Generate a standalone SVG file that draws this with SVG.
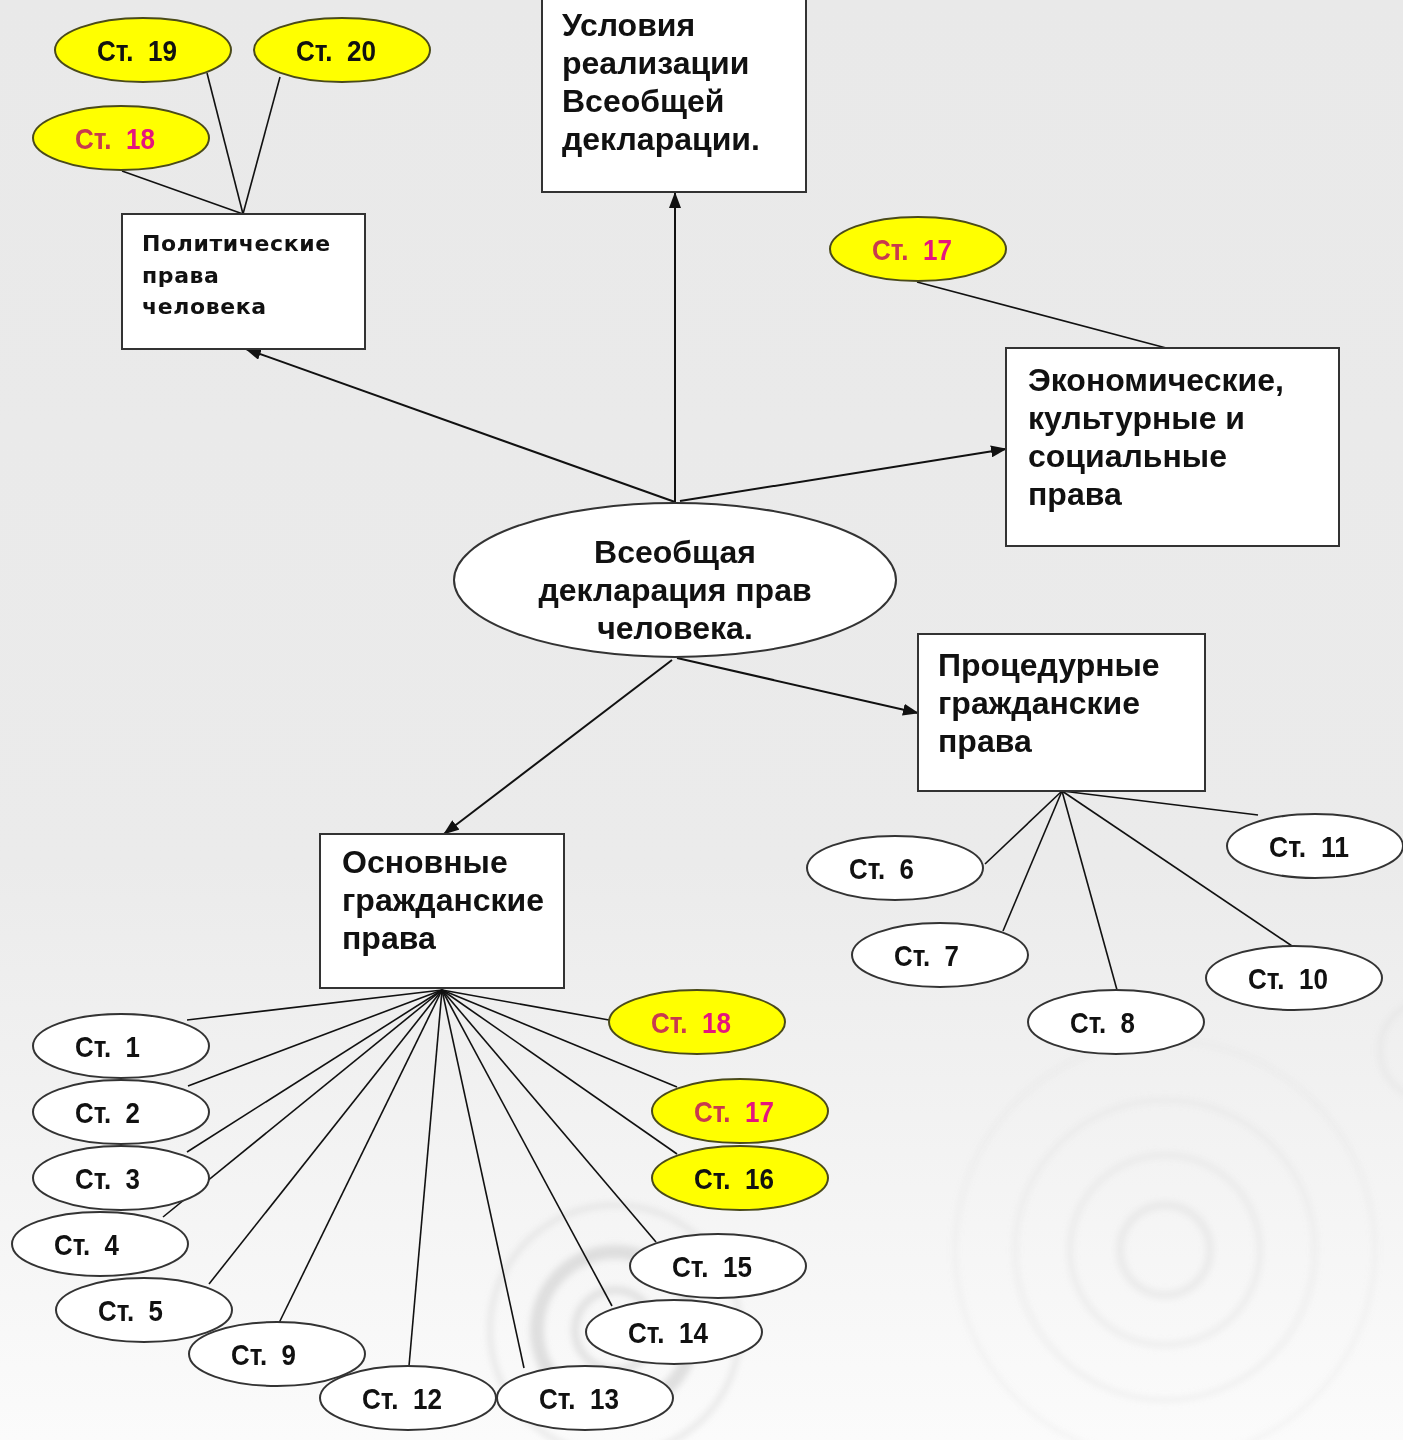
<svg xmlns="http://www.w3.org/2000/svg" width="1403" height="1440" viewBox="0 0 1403 1440">
<style>
.box{fill:#fff;stroke:#333;stroke-width:2}
.ew{fill:#fff;stroke:#333;stroke-width:2}
.ey{fill:#ffff00;stroke:#4a4a1a;stroke-width:2}
.t{font-family:"Liberation Sans",Arial,sans-serif;font-weight:bold;font-size:32px;fill:#111}
.ts{font-family:"DejaVu Sans",Verdana,sans-serif;font-weight:bold;font-size:22px;letter-spacing:0.6px;fill:#111}
.st{font-family:"Liberation Sans",Arial,sans-serif;font-weight:bold;font-size:30px;fill:#111}
.pk1{fill:#c83a4e}
.pk2{fill:#e5157e}
.ln{stroke:#111;stroke-width:1.6;fill:none}
.ar{stroke:#111;stroke-width:2;fill:none;marker-end:url(#ah)}
.rp{fill:none;stroke:#d4d4d4}
</style>
<defs>
<linearGradient id="bg" x1="0" y1="0" x2="0" y2="1">
<stop offset="0" stop-color="#e9e9e9"/>
<stop offset="0.6" stop-color="#ebebeb"/>
<stop offset="1" stop-color="#fbfbfb"/>
</linearGradient>
<filter id="soft" x="-20%" y="-20%" width="140%" height="140%"><feGaussianBlur stdDeviation="3"/></filter>
<marker id="ah" markerUnits="userSpaceOnUse" markerWidth="16" markerHeight="12" refX="15" refY="6" orient="auto">
<path d="M0,0 L16,6 L0,12 z" fill="#111"/>
</marker>
</defs>
<rect width="1403" height="1440" fill="url(#bg)"/>
<g id="ripples" filter="url(#soft)">
<circle class="rp" cx="615" cy="1330" r="40" stroke-width="8" opacity="0.6"/>
<circle class="rp" cx="615" cy="1330" r="78" stroke-width="14" opacity="0.7"/>
<circle class="rp" cx="615" cy="1330" r="125" stroke-width="5" opacity="0.5"/>
<circle class="rp" cx="1165" cy="1250" r="45" stroke-width="8" opacity="0.35"/>
<circle class="rp" cx="1165" cy="1250" r="95" stroke-width="6" opacity="0.3"/>
<circle class="rp" cx="1165" cy="1250" r="150" stroke-width="5" opacity="0.25"/>
<circle class="rp" cx="1165" cy="1250" r="210" stroke-width="4" opacity="0.2"/>
<circle class="rp" cx="1430" cy="1050" r="50" stroke-width="5" opacity="0.3"/>
</g>
<g id="connectors">
<line class="ln" x1="243" y1="214" x2="207" y2="73"/>
<line class="ln" x1="243" y1="214" x2="280" y2="77"/>
<line class="ln" x1="243" y1="214" x2="122" y2="171"/>
<line class="ln" x1="1170" y1="349" x2="917" y2="282"/>
<line class="ar" x1="675" y1="502" x2="246" y2="349"/>
<line class="ar" x1="675" y1="502" x2="675" y2="193"/>
<line class="ar" x1="680" y1="501" x2="1006" y2="449"/>
<line class="ar" x1="677" y1="658" x2="918" y2="713"/>
<line class="ar" x1="672" y1="660" x2="444" y2="834"/>
<line class="ln" x1="1062" y1="791" x2="985" y2="864"/>
<line class="ln" x1="1062" y1="791" x2="1003" y2="931"/>
<line class="ln" x1="1062" y1="791" x2="1117" y2="990"/>
<line class="ln" x1="1062" y1="791" x2="1292" y2="946"/>
<line class="ln" x1="1062" y1="791" x2="1258" y2="815"/>
<line class="ln" x1="442" y1="990" x2="187" y2="1020"/>
<line class="ln" x1="442" y1="990" x2="188" y2="1086"/>
<line class="ln" x1="442" y1="990" x2="187" y2="1152"/>
<line class="ln" x1="442" y1="990" x2="163" y2="1217"/>
<line class="ln" x1="442" y1="990" x2="209" y2="1284"/>
<line class="ln" x1="442" y1="990" x2="279" y2="1323"/>
<line class="ln" x1="442" y1="990" x2="409" y2="1366"/>
<line class="ln" x1="442" y1="990" x2="524" y2="1368"/>
<line class="ln" x1="442" y1="990" x2="612" y2="1306"/>
<line class="ln" x1="442" y1="990" x2="656" y2="1242"/>
<line class="ln" x1="442" y1="990" x2="677" y2="1154"/>
<line class="ln" x1="442" y1="990" x2="677" y2="1087"/>
<line class="ln" x1="442" y1="990" x2="609" y2="1020"/>
</g>
<g id="n-st19"><ellipse class="ey" cx="143" cy="50" rx="88" ry="32"/><text class="st" x="97" y="61" textLength="80" lengthAdjust="spacingAndGlyphs">Ст.&#160; 19</text></g>
<g id="n-st20"><ellipse class="ey" cx="342" cy="50" rx="88" ry="32"/><text class="st" x="296" y="61" textLength="80" lengthAdjust="spacingAndGlyphs">Ст.&#160; 20</text></g>
<g id="n-st18a"><ellipse class="ey" cx="121" cy="138" rx="88" ry="32"/><text class="st" x="75" y="149" textLength="80" lengthAdjust="spacingAndGlyphs"><tspan class="pk1">Ст.</tspan>&#160; <tspan class="pk2">18</tspan></text></g>
<g id="n-polit"><rect class="box" x="122" y="214" width="243" height="135"/>
<text class="ts" x="142" y="251">Политические</text>
<text class="ts" x="142" y="283">права</text>
<text class="ts" x="142" y="314">человека</text></g>
<g id="n-usl"><rect class="box" x="542" y="-2" width="264" height="194"/>
<text class="t" x="562" y="36">Условия</text>
<text class="t" x="562" y="74">реализации</text>
<text class="t" x="562" y="112">Всеобщей</text>
<text class="t" x="562" y="150">декларации.</text></g>
<g id="n-st17a"><ellipse class="ey" cx="918" cy="249" rx="88" ry="32"/><text class="st" x="872" y="260" textLength="80" lengthAdjust="spacingAndGlyphs"><tspan class="pk1">Ст.</tspan>&#160; <tspan class="pk2">17</tspan></text></g>
<g id="n-econ"><rect class="box" x="1006" y="348" width="333" height="198"/>
<text class="t" x="1028" y="391">Экономические,</text>
<text class="t" x="1028" y="429">культурные и</text>
<text class="t" x="1028" y="467">социальные</text>
<text class="t" x="1028" y="505">права</text></g>
<g id="n-center"><ellipse class="ew" cx="675" cy="580" rx="221" ry="77"/>
<text class="t" x="675" y="563" text-anchor="middle">Всеобщая</text>
<text class="t" x="675" y="601" text-anchor="middle">декларация прав</text>
<text class="t" x="675" y="639" text-anchor="middle">человека.</text></g>
<g id="n-proc"><rect class="box" x="918" y="634" width="287" height="157"/>
<text class="t" x="938" y="676">Процедурные</text>
<text class="t" x="938" y="714">гражданские</text>
<text class="t" x="938" y="752">права</text></g>
<g id="n-osn"><rect class="box" x="320" y="834" width="244" height="154"/>
<text class="t" x="342" y="873">Основные</text>
<text class="t" x="342" y="911">гражданские</text>
<text class="t" x="342" y="949">права</text></g>
<g id="n-st6"><ellipse class="ew" cx="895" cy="868" rx="88" ry="32"/><text class="st" x="849" y="879" textLength="65" lengthAdjust="spacingAndGlyphs">Ст.&#160; 6</text></g>
<g id="n-st7"><ellipse class="ew" cx="940" cy="955" rx="88" ry="32"/><text class="st" x="894" y="966" textLength="65" lengthAdjust="spacingAndGlyphs">Ст.&#160; 7</text></g>
<g id="n-st8"><ellipse class="ew" cx="1116" cy="1022" rx="88" ry="32"/><text class="st" x="1070" y="1033" textLength="65" lengthAdjust="spacingAndGlyphs">Ст.&#160; 8</text></g>
<g id="n-st10"><ellipse class="ew" cx="1294" cy="978" rx="88" ry="32"/><text class="st" x="1248" y="989" textLength="80" lengthAdjust="spacingAndGlyphs">Ст.&#160; 10</text></g>
<g id="n-st11"><ellipse class="ew" cx="1315" cy="846" rx="88" ry="32"/><text class="st" x="1269" y="857" textLength="80" lengthAdjust="spacingAndGlyphs">Ст.&#160; 11</text></g>
<g id="n-st1"><ellipse class="ew" cx="121" cy="1046" rx="88" ry="32"/><text class="st" x="75" y="1057" textLength="65" lengthAdjust="spacingAndGlyphs">Ст.&#160; 1</text></g>
<g id="n-st2"><ellipse class="ew" cx="121" cy="1112" rx="88" ry="32"/><text class="st" x="75" y="1123" textLength="65" lengthAdjust="spacingAndGlyphs">Ст.&#160; 2</text></g>
<g id="n-st3"><ellipse class="ew" cx="121" cy="1178" rx="88" ry="32"/><text class="st" x="75" y="1189" textLength="65" lengthAdjust="spacingAndGlyphs">Ст.&#160; 3</text></g>
<g id="n-st4"><ellipse class="ew" cx="100" cy="1244" rx="88" ry="32"/><text class="st" x="54" y="1255" textLength="65" lengthAdjust="spacingAndGlyphs">Ст.&#160; 4</text></g>
<g id="n-st5"><ellipse class="ew" cx="144" cy="1310" rx="88" ry="32"/><text class="st" x="98" y="1321" textLength="65" lengthAdjust="spacingAndGlyphs">Ст.&#160; 5</text></g>
<g id="n-st9"><ellipse class="ew" cx="277" cy="1354" rx="88" ry="32"/><text class="st" x="231" y="1365" textLength="65" lengthAdjust="spacingAndGlyphs">Ст.&#160; 9</text></g>
<g id="n-st12"><ellipse class="ew" cx="408" cy="1398" rx="88" ry="32"/><text class="st" x="362" y="1409" textLength="80" lengthAdjust="spacingAndGlyphs">Ст.&#160; 12</text></g>
<g id="n-st13"><ellipse class="ew" cx="585" cy="1398" rx="88" ry="32"/><text class="st" x="539" y="1409" textLength="80" lengthAdjust="spacingAndGlyphs">Ст.&#160; 13</text></g>
<g id="n-st14"><ellipse class="ew" cx="674" cy="1332" rx="88" ry="32"/><text class="st" x="628" y="1343" textLength="80" lengthAdjust="spacingAndGlyphs">Ст.&#160; 14</text></g>
<g id="n-st15"><ellipse class="ew" cx="718" cy="1266" rx="88" ry="32"/><text class="st" x="672" y="1277" textLength="80" lengthAdjust="spacingAndGlyphs">Ст.&#160; 15</text></g>
<g id="n-st16"><ellipse class="ey" cx="740" cy="1178" rx="88" ry="32"/><text class="st" x="694" y="1189" textLength="80" lengthAdjust="spacingAndGlyphs">Ст.&#160; 16</text></g>
<g id="n-st17b"><ellipse class="ey" cx="740" cy="1111" rx="88" ry="32"/><text class="st" x="694" y="1122" textLength="80" lengthAdjust="spacingAndGlyphs"><tspan class="pk1">Ст.</tspan>&#160; <tspan class="pk2">17</tspan></text></g>
<g id="n-st18b"><ellipse class="ey" cx="697" cy="1022" rx="88" ry="32"/><text class="st" x="651" y="1033" textLength="80" lengthAdjust="spacingAndGlyphs"><tspan class="pk1">Ст.</tspan>&#160; <tspan class="pk2">18</tspan></text></g>
</svg>
